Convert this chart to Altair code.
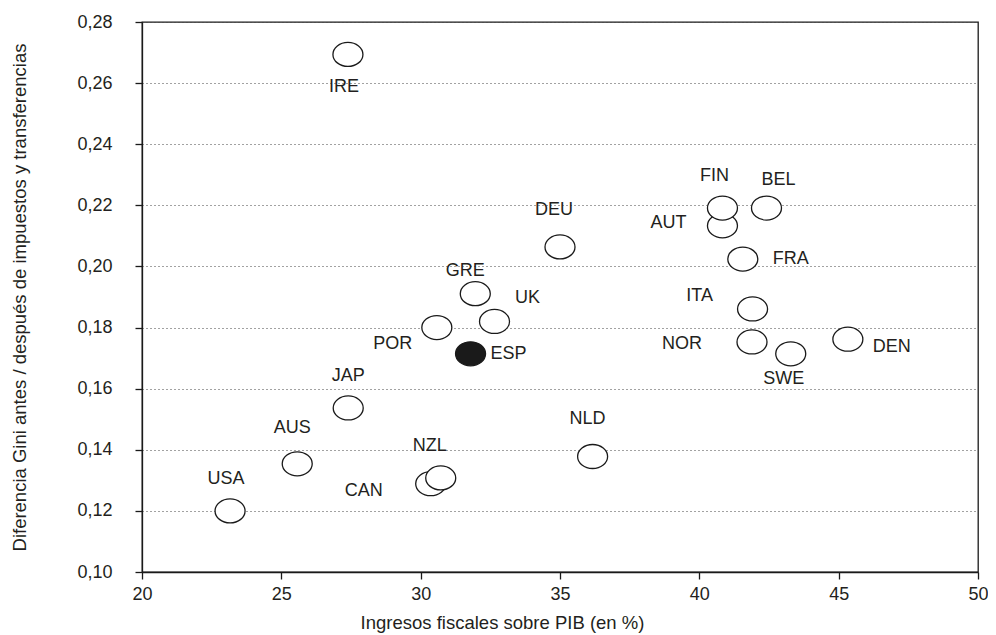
import altair as alt
import pandas as pd

# ---- data ----
countries = ["IRE", "GRE", "UK", "POR", "ESP", "JAP", "AUS", "USA", "CAN", "NZL",
             "NLD", "DEU", "AUT", "FIN", "BEL", "FRA", "ITA", "NOR", "SWE", "DEN"]
ingresos = [27.39, 31.96, 32.65, 30.58, 31.79, 27.40, 25.57, 23.16, 30.36, 30.72,
            36.17, 35.00, 40.83, 40.83, 42.41, 41.56, 41.91, 41.89, 43.28, 45.33]
gini_diff = [0.2694, 0.1911, 0.1820, 0.1800, 0.1714, 0.1537, 0.1354, 0.1200, 0.1289, 0.1308,
             0.1378, 0.2064, 0.2133, 0.2191, 0.2191, 0.2024, 0.1861, 0.1753, 0.1714, 0.1762]
x_ticks = [20, 25, 30, 35, 40, 45, 50]
y_ticks = [0.10, 0.12, 0.14, 0.16, 0.18, 0.20, 0.22, 0.24, 0.26, 0.28]
highlight = "ESP"

# label placement (pixel offsets of label centre from marker centre) - layout only
label_offsets = {
    "IRE": (-4, 33), "GRE": (-10, -23), "UK": (33, -23), "POR": (-44, 16),
    "ESP": (38, 0), "JAP": (0, -32), "AUS": (-5, -36), "USA": (-4, -32),
    "CAN": (-67, 7), "NZL": (-11, -32), "NLD": (-5, -38), "DEU": (-6, -37),
    "FIN": (-8, -32), "AUT": (-54, -3), "BEL": (12, -28), "FRA": (48, 0),
    "ITA": (-53, -13), "NOR": (-70, 2), "SWE": (-7, 25), "DEN": (44, 8),
}

df = pd.DataFrame({"pais": countries, "ingresos": ingresos, "gini": gini_diff})

TEXT = "#231f20"
FONT = "Liberation Sans"

xscale = alt.Scale(domain=[20, 50], nice=False, zero=False)
yscale = alt.Scale(domain=[0.10, 0.28], nice=False, zero=False)

ellipse = "M-1,0A1,0.8,0,1,1,1,0A1,0.8,0,1,1,-1,0Z"

points = alt.Chart(df).mark_point(
    shape=ellipse, size=900, filled=False, strokeWidth=1.3, opacity=1
).encode(
    x=alt.X("ingresos:Q", scale=xscale,
            axis=alt.Axis(values=x_ticks, title="Ingresos fiscales sobre PIB (en %)",
                          grid=False, tickSize=7, labelPadding=6, labelFlush=False,
                          titleX=360, titleY=56, titleBaseline="alphabetic")),
    y=alt.Y("gini:Q", scale=yscale,
            axis=alt.Axis(values=y_ticks,
                          title="Diferencia Gini antes / después de impuestos y transferencias",
                          labelExpr="replace(format(datum.value, '.2f'), '.', ',')",
                          grid=True, gridDash=[1, 3], gridColor="#444444", gridWidth=1,
                          tickSize=7, labelPadding=23, labelFlush=False,
                          titleX=-117, titleY=275, titleBaseline="alphabetic")),
    fill=alt.condition(alt.datum.pais == highlight, alt.value("#1a1a1a"), alt.value("white")),
    stroke=alt.value("#1a1a1a"),
)

layers = [points]
for name in countries:
    dx, dy = label_offsets[name]
    layers.append(
        alt.Chart(df).transform_filter(alt.datum.pais == name).mark_text(
            dx=dx, dy=dy, align="center", baseline="middle",
            font=FONT, fontSize=18, color=TEXT
        ).encode(x=alt.X("ingresos:Q", scale=xscale),
                 y=alt.Y("gini:Q", scale=yscale),
                 text="pais:N")
    )

chart = alt.layer(*layers).properties(
    width=836, height=550,
    autosize=alt.AutoSizeParams(type="none"),
    padding={"left": 134, "top": 14, "right": 10, "bottom": 61},
).configure(font=FONT).configure_view(
    stroke="#1a1a1a", strokeWidth=1.3
).configure_axis(
    domainColor="#1a1a1a", domainWidth=1.3, tickColor="#1a1a1a", tickWidth=1.3,
    labelFont=FONT, labelFontSize=18, labelColor=TEXT,
    titleFont=FONT, titleFontSize=18.5, titleColor=TEXT, titleFontWeight="normal",
)

chart.save("out.html", embed_options={"renderer": "svg", "actions": False})
